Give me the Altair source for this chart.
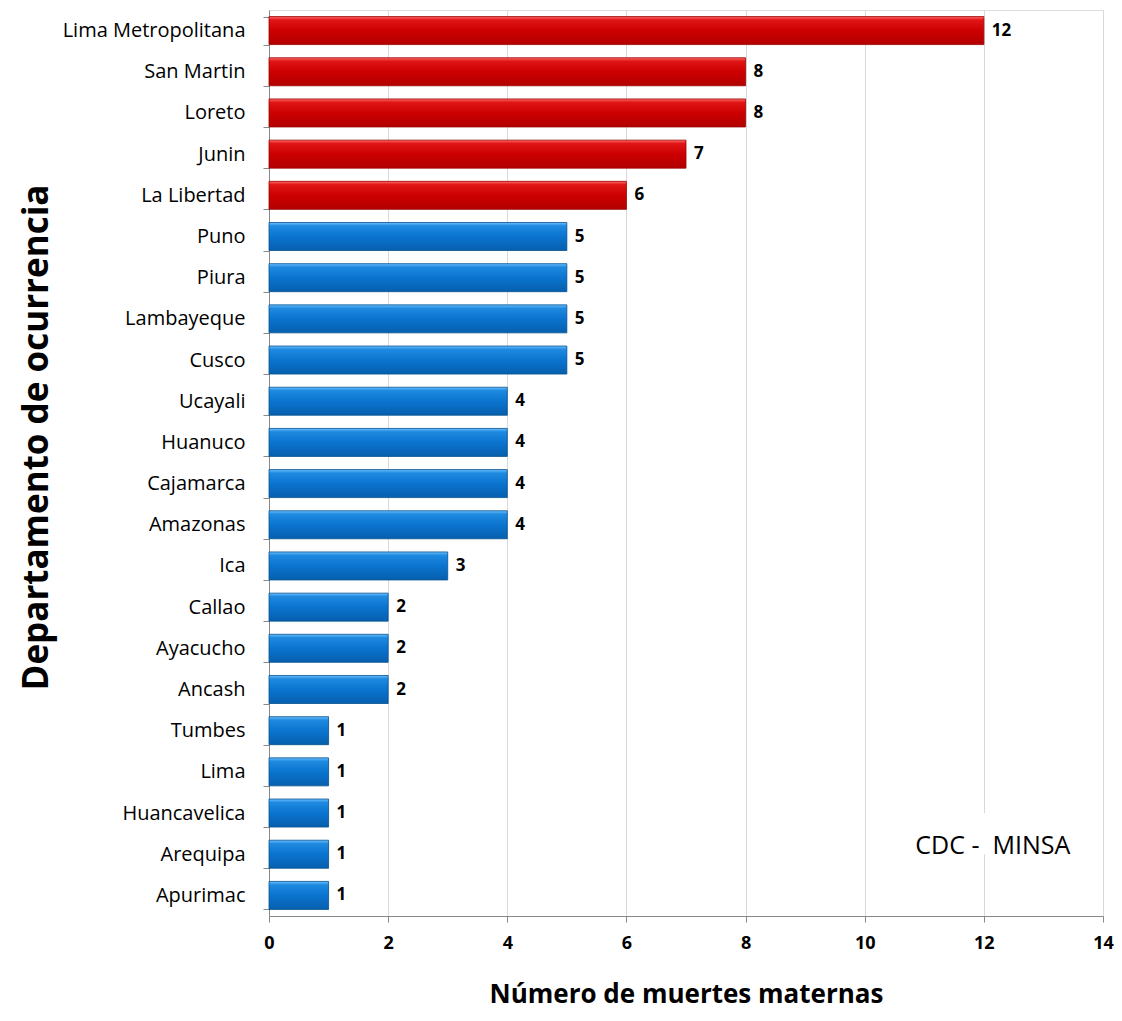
import altair as alt
import pandas as pd

departamentos = ["Lima Metropolitana", "San Martin", "Loreto", "Junin", "La Libertad",
                 "Puno", "Piura", "Lambayeque", "Cusco", "Ucayali", "Huanuco",
                 "Cajamarca", "Amazonas", "Ica", "Callao", "Ayacucho", "Ancash",
                 "Tumbes", "Lima", "Huancavelica", "Arequipa", "Apurimac"]
muertes = [12, 8, 8, 7, 6, 5, 5, 5, 5, 4, 4, 4, 4, 3, 2, 2, 2, 1, 1, 1, 1, 1]
grupo = ["top"] * 5 + ["resto"] * 17
ticks_x = [0, 2, 4, 6, 8, 10, 12, 14]

df = pd.DataFrame({"dep": departamentos, "n": muertes, "g": grupo})

FONT = "Open Sans"

red_grad = alt.Gradient(
    gradient="linear", x1=0, y1=0, x2=0, y2=1,
    stops=[alt.GradientStop(color="#ff6a6a", offset=0),
           alt.GradientStop(color="#e01515", offset=0.12),
           alt.GradientStop(color="#cc0000", offset=0.5),
           alt.GradientStop(color="#b30000", offset=1)])
blue_grad = alt.Gradient(
    gradient="linear", x1=0, y1=0, x2=0, y2=1,
    stops=[alt.GradientStop(color="#6cc0ff", offset=0),
           alt.GradientStop(color="#1f8ae0", offset=0.12),
           alt.GradientStop(color="#0a74cf", offset=0.5),
           alt.GradientStop(color="#075fae", offset=1)])

y_enc = alt.Y("dep:N", sort=departamentos,
              scale=alt.Scale(paddingInner=0.32, paddingOuter=0.16),
              axis=alt.Axis(title="Departamento de ocurrencia", titleFont=FONT,
                            titleFontSize=35, titleFontWeight="bold", titleColor="black",
                            titleX=-215, titleY=427, titleAngle=-90,
                            labelFont=FONT, labelFontSize=20, labelColor="black",
                            labelLimit=400, labelPadding=18, tickBand="extent", tickSize=6,
                            tickColor="#888888", domainColor="#888888", grid=False))
x_enc = alt.X("n:Q", scale=alt.Scale(domain=[0, 14], nice=False),
              axis=alt.Axis(values=ticks_x, format="d", labelFlush=False,
                            title="Número de muertes maternas",
                            titleFont=FONT, titleFontSize=26, titleFontWeight="bold",
                            titleColor="black", titlePadding=29,
                            labelFont=FONT, labelFontSize=18, labelFontWeight="bold",
                            labelColor="black", labelPadding=12, tickSize=6,
                            tickColor="#888888", domainColor="#888888",
                            gridColor="#d9d9d9", gridWidth=1))

base = alt.Chart(df)

red = base.transform_filter(alt.datum.g == "top").mark_bar(
    fill=red_grad, stroke="#990000", strokeWidth=0.8).encode(x=x_enc, y=y_enc)
blue = base.transform_filter(alt.datum.g == "resto").mark_bar(
    fill=blue_grad, stroke="#05508f", strokeWidth=0.8).encode(x=x_enc, y=y_enc)

labels = base.mark_text(align="left", baseline="middle", dx=8, font=FONT,
                        fontSize=17, fontWeight="bold", color="black").encode(
    x="n:Q", y=alt.Y("dep:N", sort=departamentos), text="n:Q")

note_box = alt.Chart(pd.DataFrame({"a": [0]})).mark_rect(color="white").encode(
    x=alt.datum(10.7), x2=alt.datum(13.7),
    y=alt.datum("Huancavelica"), y2=alt.datum("Arequipa"))
note = alt.Chart(pd.DataFrame({"a": [0]})).mark_text(
    font=FONT, fontSize=25, color="black", align="center", baseline="middle", dy=-8).encode(
    x=alt.datum(12.15), y=alt.datum("Arequipa"), text=alt.value("CDC -\u00a0\u00a0MINSA"))

chart = alt.layer(red, blue, labels, note_box, note).properties(
    width=834, height=906,
    autosize=alt.AutoSizeParams(type="none"),
    padding={"left": 261, "top": 2, "right": 11, "bottom": 94},
).configure_view(stroke=None, strokeWidth=0).configure(background="white")

chart.save("out.html", embed_options={"renderer": "svg", "actions": False})
